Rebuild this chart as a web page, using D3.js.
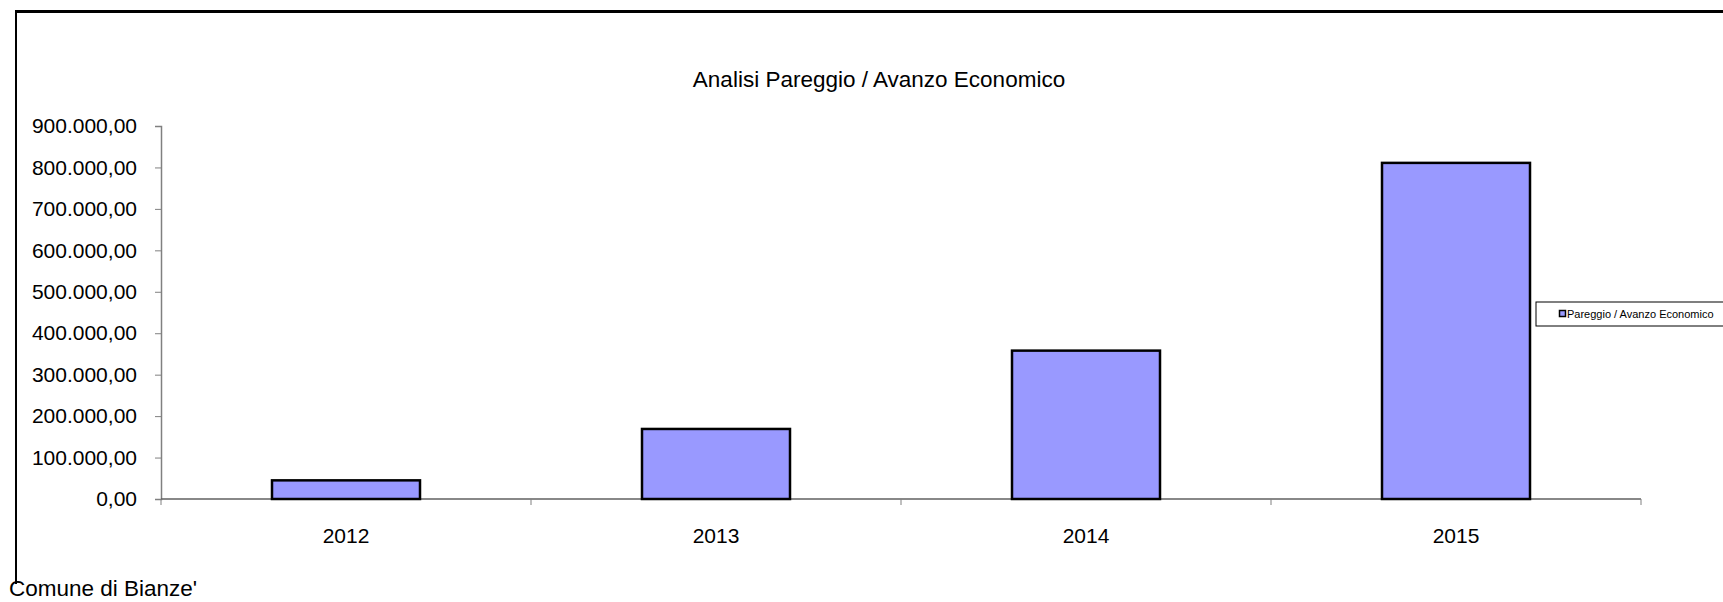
<!DOCTYPE html>
<html>
<head>
<meta charset="utf-8">
<title>Analisi Pareggio / Avanzo Economico</title>
<script src="https://d3js.org/d3.v7.min.js"></script>
<style>
  body { margin: 0; background: #fff; }
  text { font-family: "Liberation Sans", Arial, sans-serif; fill: #000; }
</style>
</head>
<body>
<script>
// data
var years = ["2012", "2013", "2014", "2015"];
var values = [45000, 169000, 358000, 811000];
var yTicks = [0, 100000, 200000, 300000, 400000, 500000, 600000, 700000, 800000, 900000];
var seriesName = "Pareggio / Avanzo Economico";
var titleText = "Analisi Pareggio / Avanzo Economico";
var footerText = "Comune di Bianze'";

var W = 1723, H = 602;
var plot = { left: 161, right: 1641, top: 126, bottom: 499 };

var svg = d3.select("body").append("svg")
    .attr("width", W)
    .attr("height", H);

// outer frame (only top + left edge visible)
svg.append("line").attr("x1", 15).attr("x2", W).attr("y1", 11.5).attr("y2", 11.5)
    .attr("stroke", "#000").attr("stroke-width", 3);
svg.append("line").attr("x1", 16).attr("x2", 16).attr("y1", 10).attr("y2", 584)
    .attr("stroke", "#000").attr("stroke-width", 2);

var x = d3.scaleBand().domain(years).range([plot.left, plot.right])
    .paddingInner(0.6).paddingOuter(0.3);
var xb = d3.scaleBand().domain(years).range([plot.left, plot.right]); // full bands, for ticks and labels
var y = d3.scaleLinear().domain([0, 900000]).range([plot.bottom, plot.top]);

// italian number format 900.000,00
var fmt = function (d) {
    return d3.format(",.2f")(d).replace(/,/g, "#").replace(".", ",").replace(/#/g, ".");
};

// y axis
var yAxis = svg.append("g")
    .attr("transform", "translate(" + plot.left + ",0)")
    .call(d3.axisLeft(y).tickValues(yTicks).tickFormat(fmt).tickSize(6).tickPadding(18));
yAxis.select(".domain").attr("stroke", "#808080").attr("stroke-width", 1.5);
yAxis.selectAll(".tick line").attr("stroke", "#808080");
yAxis.selectAll(".tick text")
    .attr("font-size", 21)
    .attr("font-family", "Liberation Sans, Arial, sans-serif")
    .attr("fill", "#000");

// x axis: ticks sit on the band edges
var edges = years.map(function (d) { return xb(d); }).concat([plot.right]);
var xEdge = svg.append("g").attr("transform", "translate(0," + plot.bottom + ")");
xEdge.append("line").attr("x1", plot.left).attr("x2", plot.right)
    .attr("stroke", "#606060").attr("stroke-width", 1.5);
xEdge.selectAll("line.tk").data(edges).enter().append("line")
    .attr("class", "tk")
    .attr("x1", function (d) { return d; }).attr("x2", function (d) { return d; })
    .attr("y1", 0).attr("y2", 6)
    .attr("stroke", "#808080");

svg.selectAll("text.xl").data(years).enter().append("text")
    .attr("class", "xl")
    .attr("x", function (d) { return xb(d) + xb.bandwidth() / 2; })
    .attr("y", 543)
    .attr("text-anchor", "middle")
    .attr("font-size", 21)
    .text(function (d) { return d; });

// bars
svg.selectAll("rect.bar").data(values).enter().append("rect")
    .attr("class", "bar")
    .attr("x", function (d, i) { return x(years[i]); })
    .attr("y", function (d) { return y(d); })
    .attr("width", x.bandwidth())
    .attr("height", function (d) { return plot.bottom - y(d); })
    .attr("fill", "#9999ff")
    .attr("stroke", "#000")
    .attr("stroke-width", 2.5);

// title
svg.append("text")
    .attr("x", 879).attr("y", 87)
    .attr("text-anchor", "middle")
    .attr("font-size", 22.5)
    .text(titleText);

// legend (box runs off the right edge)
var lg = svg.append("g").attr("transform", "translate(1536,302)");
lg.append("rect").attr("x", 0).attr("y", 0).attr("width", 200).attr("height", 24)
    .attr("fill", "#fff").attr("stroke", "#000").attr("stroke-width", 1);
lg.append("rect").attr("x", 23.5).attr("y", 8.5).attr("width", 6).attr("height", 6)
    .attr("fill", "#9999ff").attr("stroke", "#000").attr("stroke-width", 1.5);
lg.append("text").attr("x", 31).attr("y", 16)
    .attr("font-size", 11)
    .text(seriesName);

// footer
svg.append("text")
    .attr("x", 9).attr("y", 596)
    .attr("font-size", 22.5)
    .text(footerText);
</script>
</body>
</html>
